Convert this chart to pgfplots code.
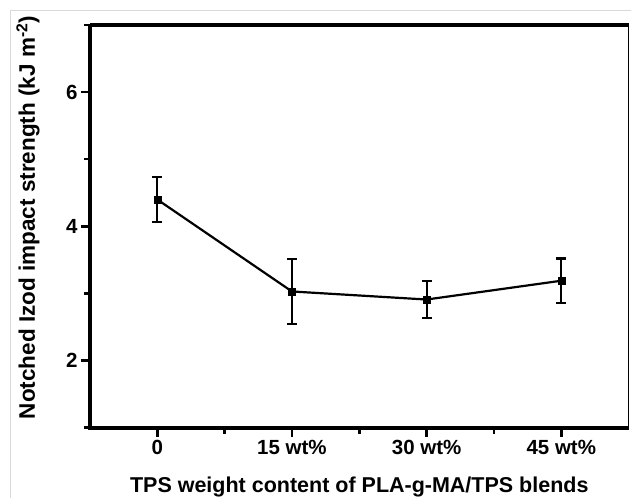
\documentclass[border=0pt]{standalone}
\usepackage{pgfplots}
\pgfplotsset{compat=1.18}
\usepackage{fontspec}
\setmainfont{Liberation Sans}
\newcommand\tf{\fontsize{20.5}{22}\selectfont\bfseries}

\begin{document}
\begin{tikzpicture}
\begin{axis}[
  scale only axis,
  width=539pt, height=403pt,
  at={(0,0)}, anchor=south west,
  xmin=-0.5, xmax=3.5, ymin=1, ymax=7,
  xtick={0,1,2,3},
  xticklabels={\tf 0, \tf 15 wt\%, \tf 30 wt\%, \tf 45 wt\%},
  ytick={2,4,6},
  yticklabels={\tf 2, \tf 4, \tf 6},
  minor xtick={0.5,1.5,2.5},
  minor ytick={1,3,5,7},
  xtick pos=bottom, ytick pos=left,
  tick align=outside,
  major tick length=9pt, minor tick length=6pt,
  every tick/.style={black, line width=2.5pt},
  axis line style={line width=1.5pt},
  xlabel={TPS weight content of PLA-g-MA/TPS blends},
  ylabel={Notched Izod impact strength (kJ m\textsuperscript{-2})},
  xlabel style={font=\fontsize{21.5}{24}\selectfont\bfseries,
    at={(axis description cs:0.5,-0.162)}, anchor=base},
  ylabel style={font=\fontsize{22.5}{26}\selectfont\bfseries,
    at={(axis description cs:-0.102,0.522)}, anchor=base},
  clip=false,
]
\addplot[black, line width=2.2pt, mark=square*, mark size=3.5pt,
  mark options={solid, line width=0.5pt},
  error bars/.cd, y dir=both, y explicit,
  error bar style={line width=2.2pt},
  error mark options={rotate=90, mark size=5pt, line width=2.2pt}]
  coordinates {
    (0,4.40) +- (0,0.34)
    (1,3.03) +- (0,0.48)
    (2,2.91) +- (0,0.27)
    (3,3.19) +- (0,0.33)
  };
\draw[line width=4pt] (rel axis cs:0,1) -- (rel axis cs:0,0) -- (rel axis cs:1,0);
\draw[line width=4pt] (rel axis cs:0,1) -- (rel axis cs:1,1);
\end{axis}
\pgfresetboundingbox
\draw[black!15, line width=0.8pt] (-80pt,-70pt) -- (-80pt,418pt) -- (541pt,418pt);
\useasboundingbox (-90pt,-70pt) rectangle (541pt,428pt);
\end{tikzpicture}
\end{document}
